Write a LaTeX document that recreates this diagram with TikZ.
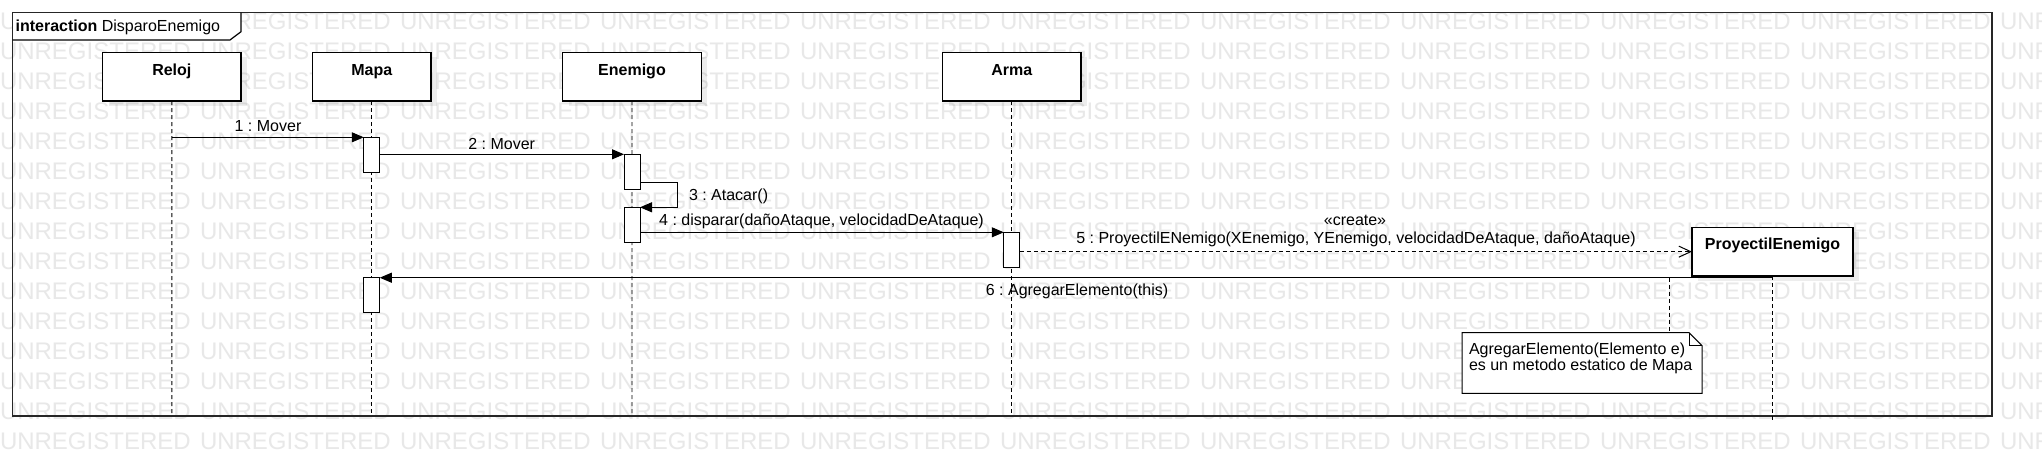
\documentclass[tikz,border=0pt]{standalone}
\usepackage{fontspec}
\setmainfont{Liberation Sans}
\usetikzlibrary{arrows.meta,shadows}
\frenchspacing
\begin{document}
\begin{tikzpicture}[x=1pt,y=-1pt,
  every node/.style={inner sep=0pt, outer sep=0pt},
  txt/.style={font=\fontsize{16}{16}\selectfont, anchor=base},
  hd/.style={font=\fontsize{16}{16}\selectfont\bfseries, anchor=base},
  head/.style={draw=black, fill=white, line width=1.2pt, anchor=north west, minimum height=48.7pt},
  shad/.style={general shadow={fill=black, opacity=0.07, shadow xshift=6pt, shadow yshift=-5pt}},
  act/.style={draw=black, fill=white, line width=1pt, minimum width=16pt, minimum height=35pt, anchor=north},
  life/.style={line width=0.9pt, dash pattern=on 4pt off 3pt},
  msg/.style={line width=1pt, -{Triangle[length=12pt,width=10pt]}},
  crt/.style={line width=1pt, dash pattern=on 4pt off 3pt, -{Straight Barb[length=12pt,width=11pt]}},
  wmk/.style={text=black!9, font=\fontsize{24}{24}\selectfont, anchor=west}
]
\useasboundingbox (0,0) rectangle (2042,472);
\fill[white] (0,0) rectangle (2042,472);
% watermark
\foreach \r in {-1,...,14} {
  \foreach \c in {0,...,10} {
    \node[wmk] (w\r x\c) at (200*\c, 21.7+30*\r) {UNREGISTERED};
  }
}
% frame
\fill[white] (12.5,12.7) -- (241,12.7) -- (241,31.7) -- (230,40) -- (12.5,40) -- cycle;
\draw[line width=1.4pt, draw=black!85] (12.5,12.7) rectangle (1992,416);
\draw[line width=1.2pt] (12.5,40) -- (230,40) -- (241,31.7) -- (241,12.7);
\node[txt, anchor=base west] (title) at (15.6,31.7) {\textbf{interaction} DisparoEnemigo};
% heads
\node[head, shad, minimum width=138.3pt] (reloj) at (102.7,52.3) {};
\node[head, shad, minimum width=118.5pt] (mapa) at (312.5,52.3) {};
\node[head, shad, minimum width=138.9pt] (enemigo) at (562.5,52.3) {};
\node[head, shad, minimum width=138.5pt] (arma) at (942.5,52.3) {};
\node[head, shad, minimum width=161pt] (proy) at (1692,227.3) {};
\node[hd] (relojT) at (171.85,75) {Reloj};
\node[hd] (mapaT) at (371.75,75) {Mapa};
\node[hd] (enemigoT) at (632,75) {Enemigo};
\node[hd] (armaT) at (1011.75,75) {Arma};
\node[hd] (proyT) at (1772.5,249) {ProyectilEnemigo};
% lifelines
\coordinate (relojE) at (171.85,415);
\coordinate (mapaE) at (371.75,415);
\coordinate (enemigoE) at (632,415);
\coordinate (armaE) at (1011.75,415);
\coordinate (proyE) at (1772.5,422.7);
\draw[life] (reloj.south) -- (relojE);
\draw[life] (mapa.south) -- (mapaE);
\draw[life] (enemigo.south) -- (enemigoE);
\draw[life] (arma.south) -- (armaE);
\draw[life] (proy.south) -- (proyE);
% activations
\node[act] (m1) at (371.75,137.3) {};
\node[act] (e1) at (632,154.3) {};
\node[act] (e2) at (632,207.3) {};
\node[act] (a1) at (1011.75,232.3) {};
\node[act] (m2) at (371.75,277.7) {};
% messages
\draw[msg] (reloj.south |- m1.north) -- (m1.north west);
\node[txt] (l1) at (268,131.7) {1 : Mover};
\draw[msg] (m1.east |- e1.north) -- (e1.north west);
\node[txt] (l2) at (501.7,149) {2 : Mover};
\coordinate (s3) at (677.6,182.7);
\draw[msg] (e1.east |- s3) -- (s3) |- (e2.north east);
\node[txt, anchor=base west] (l3) at (689,200.7) {3 : Atacar()};
\draw[msg] (e2.east |- a1.north) -- (a1.north west);
\node[txt] (l4) at (821.5,225.7) {4 : disparar(dañoAtaque, velocidadDeAtaque)};
\draw[crt] (a1.east |- proy.west) -- (proy.west);
\node[txt] (l5a) at (1355,225.5) {«create»};
\node[txt] (l5) at (1356,243) {5 : ProyectilENemigo(XEnemigo, YEnemigo, velocidadDeAtaque, dañoAtaque)};
\draw[msg] (proy.south |- m2.north) -- (m2.north east);
\node[txt] (l6) at (1077,295.7) {6 : AgregarElemento(this)};
% note
\coordinate (nA) at (1669,277.7);
\coordinate (nT) at (1669,332.7);
\draw[life] (nA) -- (nT);
\draw[line width=1pt, fill=white] (1462,332.7) -- (1689,332.7) -- (1702,345.7) -- (1702,393.3) -- (1462,393.3) -- cycle;
\draw[line width=1pt] (1689,332.7) -- (1689,345.7) -- (1702,345.7);
\node[txt, anchor=base west] (n1) at (1469,354.7) {AgregarElemento(Elemento e)};
\node[txt, anchor=base west] (n2) at (1469,370.7) {es un metodo estatico de Mapa};
\end{tikzpicture}
\end{document}
